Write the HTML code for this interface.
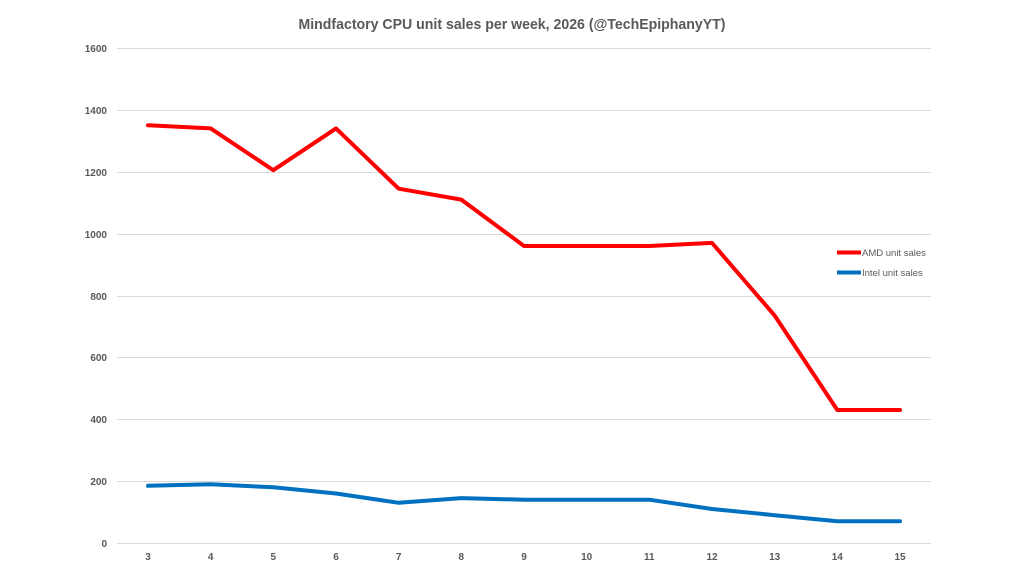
<!DOCTYPE html>
<html><head><meta charset="utf-8"><style>
html,body{margin:0;padding:0;background:#fff;}
svg{display:block;font-family:"Liberation Sans",sans-serif;}
</style></head><body>
<svg width="1024" height="576" viewBox="0 0 1024 576">
<text x="512" y="29" text-anchor="middle" font-size="15" font-weight="bold" fill="#595959" textLength="427" lengthAdjust="spacingAndGlyphs">Mindfactory CPU unit sales per week, 2026 (@TechEpiphanyYT)</text>
<g stroke="#d9d9d9" stroke-width="1">
<line x1="117" x2="931" y1="48.5" y2="48.5"/>
<line x1="117" x2="931" y1="110.5" y2="110.5"/>
<line x1="117" x2="931" y1="172.5" y2="172.5"/>
<line x1="117" x2="931" y1="234.5" y2="234.5"/>
<line x1="117" x2="931" y1="296.5" y2="296.5"/>
<line x1="117" x2="931" y1="357.5" y2="357.5"/>
<line x1="117" x2="931" y1="419.5" y2="419.5"/>
<line x1="117" x2="931" y1="481.5" y2="481.5"/>
<line x1="117" x2="931" y1="543.5" y2="543.5"/>
</g>
<g font-size="10" font-weight="bold" fill="#595959" text-anchor="end">
<text x="107" y="52">1600</text><text x="107" y="114">1400</text><text x="107" y="176">1200</text>
<text x="107" y="238">1000</text><text x="107" y="300">800</text><text x="107" y="361">600</text>
<text x="107" y="423">400</text><text x="107" y="485">200</text><text x="107" y="547">0</text>
</g>
<g font-size="10" font-weight="bold" fill="#595959" text-anchor="middle">
<text x="148" y="560">3</text><text x="210.7" y="560">4</text><text x="273.3" y="560">5</text>
<text x="336" y="560">6</text><text x="398.7" y="560">7</text><text x="461.3" y="560">8</text>
<text x="524" y="560">9</text><text x="586.7" y="560">10</text><text x="649.3" y="560">11</text>
<text x="712" y="560">12</text><text x="774.7" y="560">13</text><text x="837.3" y="560">14</text>
<text x="900" y="560">15</text>
</g>
<polyline fill="none" stroke="#ff0000" stroke-width="4" stroke-linejoin="round" stroke-linecap="round"
points="148,125.3 210.7,128.4 273.3,170.2 336,128.4 398.7,188.7 461.3,199.6 524,246 586.7,246 649.3,246 712,242.9 774.7,315.6 837.3,410 900,410"/>
<polyline fill="none" stroke="#0070c0" stroke-width="4" stroke-linejoin="round" stroke-linecap="round"
points="148,485.8 210.7,484.2 273.3,487.3 336,493.5 398.7,502.8 461.3,498.1 524,499.7 586.7,499.7 649.3,499.7 712,509 774.7,515.2 837.3,521.3 900,521.3"/>
<line x1="837" x2="861" y1="252.5" y2="252.5" stroke="#ff0000" stroke-width="4"/>
<line x1="837" x2="861" y1="272.5" y2="272.5" stroke="#0070c0" stroke-width="4"/>
<g font-size="9.5" fill="#595959">
<text x="862" y="256">AMD unit sales</text>
<text x="862" y="276">Intel unit sales</text>
</g>
</svg>
</body></html>
